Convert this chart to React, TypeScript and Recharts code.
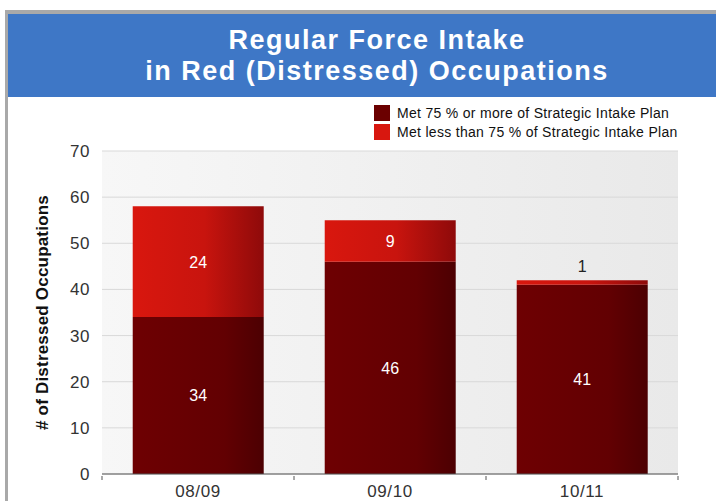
import React from "react";
import {
  BarChart,
  Bar,
  XAxis,
  YAxis,
  CartesianGrid,
  LabelList,
} from "recharts";

const years = ["08/09", "09/10", "10/11"];
const metMore = [34, 46, 41];
const metLess = [24, 9, 1];
const yTicks = [0, 10, 20, 30, 40, 50, 60, 70];

const NAME_MORE = "Met 75 % or more of Strategic Intake Plan";
const NAME_LESS = "Met less than 75 % of Strategic Intake Plan";

const datos = years.map((y, i) => ({ year: y, more: metMore[i], less: metLess[i] }));

const FONT = "'Liberation Sans', Arial, Helvetica, sans-serif";

function XTick(props: any) {
  const { x, y, payload, index } = props;
  const half = payload.offset ?? 0;
  return (
    <g>
      <line x1={x - half} x2={x - half} y1={y - 6} y2={y - 2} stroke="#555" />
      {index === years.length - 1 && (
        <line x1={x + half} x2={x + half} y1={y - 6} y2={y - 2} stroke="#555" />
      )}
      <text x={x} y={y + 15} textAnchor="middle" fontSize={17} fill="#333" fontFamily={FONT} letterSpacing={0.6}>
        {payload.value}
      </text>
    </g>
  );
}

function EtiquetaMenor(props: any) {
  const { x, y, width, height, value } = props;
  if (height < 20) {
    return (
      <text x={x + width / 2} y={y - 8} textAnchor="middle" fontSize={16} fill="#222" fontFamily={FONT}>
        {value}
      </text>
    );
  }
  return (
    <text x={x + width / 2} y={y + height / 2 + 6} textAnchor="middle" fontSize={16} fill="#fff" fontFamily={FONT}>
      {value}
    </text>
  );
}

function Leyenda() {
  const items = [
    { name: NAME_MORE, color: "#6b0000" },
    { name: NAME_LESS, color: "#d8170f" },
  ];
  return (
    <div style={{ position: "absolute", left: 374, top: 103, fontFamily: FONT, fontSize: 14, color: "#111", letterSpacing: 0.3 }}>
      {items.map((it) => (
        <div key={it.name} style={{ display: "flex", alignItems: "center", height: 19 }}>
          <span style={{ width: 16, height: 16, background: it.color, marginRight: 7 }} />
          {it.name}
        </div>
      ))}
    </div>
  );
}

export default function App() {
  return (
    <div style={{ position: "absolute", left: 0, top: 0, width: 716, height: 501, background: "#fff", overflow: "hidden" }}>
      <div style={{ position: "absolute", left: 5, top: 10, width: 711, height: 4, background: "#a9a9a9" }} />
      <div style={{ position: "absolute", left: 5, top: 10, width: 3, height: 491, background: "#a9a9a9" }} />
      <div
        style={{
          position: "absolute",
          left: 8,
          top: 14,
          width: 708,
          height: 83,
          background: "#3e77c6",
          color: "#fff",
          fontFamily: FONT,
          fontWeight: "bold",
          fontSize: 27,
          letterSpacing: 1.5,
          lineHeight: "31px",
          textAlign: "center",
          paddingTop: 11,
          paddingLeft: 30,
          boxSizing: "border-box",
        }}
      >
        <div>Regular Force Intake</div>
        <div>in Red (Distressed) Occupations</div>
      </div>
      <Leyenda />
      <div style={{ position: "absolute", left: 0, top: 0 }}>
        <BarChart
          width={716}
          height={501}
          data={datos}
          margin={{ top: 151, right: 38, left: 0, bottom: 0 }}
          barCategoryGap="16%"
        >
          <defs>
            <linearGradient id="plotBg" x1="0" y1="0" x2="1" y2="0">
              <stop offset="0%" stopColor="#f7f7f7" />
              <stop offset="100%" stopColor="#e9e9e9" />
            </linearGradient>
            <linearGradient id="gMore" x1="0" y1="0" x2="1" y2="0">
              <stop offset="0%" stopColor="#6e0002" />
              <stop offset="70%" stopColor="#620002" />
              <stop offset="100%" stopColor="#4c0002" />
            </linearGradient>
            <linearGradient id="gLess" x1="0" y1="0" x2="1" y2="0">
              <stop offset="0%" stopColor="#d9170e" />
              <stop offset="55%" stopColor="#c8140e" />
              <stop offset="100%" stopColor="#8e0a0a" />
            </linearGradient>
          </defs>
          <CartesianGrid vertical={false} stroke="#d9d9d9" fill="url(#plotBg)" />
          <XAxis
            dataKey="year"
            height={27}
            axisLine={{ stroke: "#555" }}
            tickLine={false}
            tick={<XTick />}
            interval={0}
          />
          <YAxis
            width={102}
            domain={[0, 70]}
            ticks={yTicks}
            axisLine={false}
            tickLine={false}
            tickMargin={6}
            tick={{ fontSize: 17, fill: "#333", fontFamily: FONT, letterSpacing: 0.6 }}
            label={{
              content: ({ viewBox }: any) => {
                const cy = viewBox.y + viewBox.height / 2;
                return (
                  <text
                    x={48}
                    y={cy}
                    transform={`rotate(-90, 48, ${cy})`}
                    textAnchor="middle"
                    fontSize={17}
                    fontWeight="bold"
                    fill="#111"
                    fontFamily={FONT}
                    letterSpacing={0.2}
                  >
                    # of Distressed Occupations
                  </text>
                );
              },
            }}
          />
          <YAxis
            yAxisId="borde"
            orientation="right"
            width={0}
            tick={false}
            tickLine={false}
            axisLine={{ stroke: "#cfcfcf" }}
          />
          <Bar dataKey="more" name={NAME_MORE} stackId="a" fill="url(#gMore)" isAnimationActive={false}>
            <LabelList dataKey="more" position="center" fill="#fff" fontSize={16} fontFamily={FONT} />
          </Bar>
          <Bar dataKey="less" name={NAME_LESS} stackId="a" fill="url(#gLess)" isAnimationActive={false}>
            <LabelList dataKey="less" content={<EtiquetaMenor />} />
          </Bar>
        </BarChart>
      </div>
    </div>
  );
}
